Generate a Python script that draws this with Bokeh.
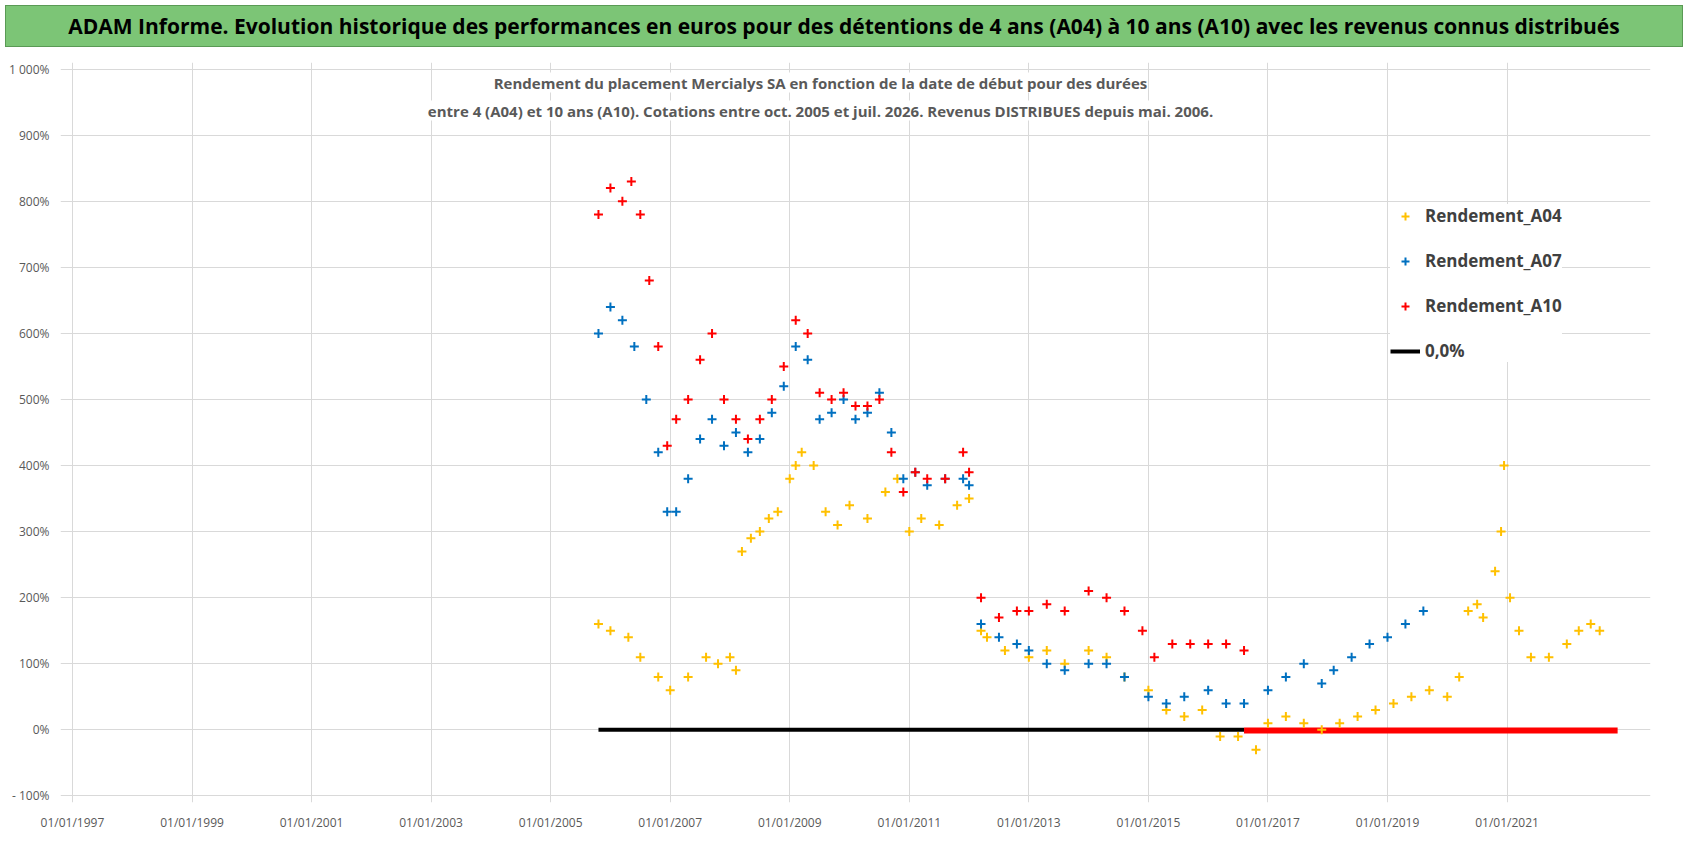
from bokeh.plotting import figure
from bokeh.models import FixedTicker, Label, Legend, LegendItem, Div
from bokeh.layouts import column
from bokeh.embed import file_html
from bokeh.resources import INLINE

# Values (x in decimal years, y in %)
a04_x = [2005.8,2006.0,2006.3,2006.5,2006.8,2007.0,2007.3,2007.6,2007.8,2008.0,2008.1,
         2008.2,2008.35,2008.5,2008.65,2008.8,2009.0,2009.1,2009.2,2009.4,2009.6,2009.8,2010.0,2010.3,2010.6,2010.8,2011.0,2011.2,2011.5,2011.8,2012.0,
         2012.2,2012.3,2012.6,2013.0,2013.3,2013.6,2014.0,2014.3,2014.6,2015.0,2015.3,2015.6,2015.9,2016.2,2016.5,2016.8,2017.0,2017.3,2017.6,2017.9,2018.2,2018.5,2018.8,2019.1,2019.4,2019.7,2020.0,2020.2,2020.35,2020.5,2020.6,2020.8,2020.9,2020.95,2021.05,2021.2,2021.4,2021.7,2022.0,2022.2,2022.4,2022.55]
a04_y = [160,150,140,110,80,60,80,110,100,110,90,
         270,290,300,320,330,380,400,420,400,330,310,340,320,360,380,300,320,310,340,350,
         150,140,120,110,120,100,120,110,80,60,30,20,30,-10,-10,-30,10,20,10,0,10,20,30,40,50,60,50,80,180,190,170,240,300,400,200,150,110,110,130,150,160,150]
a07_x = [2005.8,2006.0,2006.2,2006.4,2006.6,2006.8,2006.95,2007.1,2007.3,2007.5,2007.7,2007.9,2008.1,2008.3,2008.5,2008.7,2008.9,2009.1,2009.3,2009.5,2009.7,2009.9,2010.1,2010.3,2010.5,2010.7,2010.9,2011.1,2011.3,2011.6,2011.9,2012.0,
         2012.2,2012.5,2012.8,2013.0,2013.3,2013.6,2014.0,2014.3,2014.6,2015.0,2015.3,2015.6,2016.0,2016.3,2016.6,2017.0,2017.3,2017.6,2017.9,2018.1,2018.4,2018.7,2019.0,2019.3,2019.6]
a07_y = [600,640,620,580,500,420,330,330,380,440,470,430,450,420,440,480,520,580,560,470,480,500,470,480,510,450,380,390,370,380,380,370,
         160,140,130,120,100,90,100,100,80,50,40,50,60,40,40,60,80,100,70,90,110,130,140,160,180]
a10_x = [2005.8,2006.0,2006.2,2006.35,2006.5,2006.65,2006.8,2006.95,2007.1,2007.3,2007.5,2007.7,2007.9,2008.1,2008.3,2008.5,2008.7,2008.9,2009.1,2009.3,2009.5,2009.7,2009.9,2010.1,2010.3,2010.5,2010.7,2010.9,2011.1,2011.3,2011.6,2011.9,2012.0,
         2012.2,2012.5,2012.8,2013.0,2013.3,2013.6,2014.0,2014.3,2014.6,2014.9,2015.1,2015.4,2015.7,2016.0,2016.3,2016.6]
a10_y = [780,820,800,830,780,680,580,430,470,500,560,600,500,470,440,470,500,550,620,600,510,500,510,490,490,500,420,360,390,380,380,420,390,
         200,170,180,180,190,180,210,200,180,150,110,130,130,130,130,120]
zero_black = [2005.8, 2016.6]
zero_red = [2016.6, 2022.85]
tick_years = [1997,1999,2001,2003,2005,2007,2009,2011,2013,2015,2017,2019,2021]
y_ticks = list(range(-100, 1001, 100))

title = Div(text="ADAM Informe. Evolution historique des performances en euros pour des détentions de 4 ans (A04) à 10 ans (A10) avec les revenus connus distribués",
            width=1680, height=42,
            styles={"background-color": "#7CC576", "font-family": "Open Sans", "font-size": "21px",
                    "font-weight": "bold", "color": "black", "text-align": "center",
                    "line-height": "40px", "border": "1px solid #5a9a55", "width": "1678px"})

p = figure(width=1680, height=790, output_backend="svg", toolbar_location=None,
           x_range=(1996.8, 2023.4), y_range=(-110, 1010))
p.min_border_left = 60
p.min_border_bottom = 40
p.min_border_top = 10
p.min_border_right = 30
p.outline_line_color = None

p.xaxis.ticker = FixedTicker(ticks=tick_years)
p.xaxis.major_label_overrides = {y: "01/01/%d" % y for y in tick_years}
p.yaxis.ticker = FixedTicker(ticks=y_ticks)
p.yaxis.major_label_overrides = {v: ("1 000%" if v == 1000 else ("- 100%" if v < 0 else "%d%%" % v)) for v in y_ticks}
for ax in (p.xaxis, p.yaxis):
    ax.major_label_text_font = "Open Sans"
    ax.major_label_text_font_size = "12px"
    ax.major_label_text_color = "#595959"
    ax.axis_line_color = None
    ax.major_tick_line_color = None
    ax.minor_tick_line_color = None
p.grid.grid_line_color = "#D9D9D9"

r_black = p.line(zero_black, [0, 0], line_color="black", line_width=4)
p.line(zero_red, [-1, -1], line_color="#FF0000", line_width=6)
r4 = p.scatter(a04_x, a04_y, marker="cross", size=9, line_width=2, color="#FFC000")
r7 = p.scatter(a07_x, a07_y, marker="cross", size=9, line_width=2, color="#0070C0")
r10 = p.scatter(a10_x, a10_y, marker="cross", size=9, line_width=2, color="#FF0000")

legend = Legend(items=[LegendItem(label="Rendement_A04", renderers=[r4]),
                       LegendItem(label="Rendement_A07", renderers=[r7]),
                       LegendItem(label="Rendement_A10", renderers=[r10]),
                       LegendItem(label="0,0%", renderers=[r_black])],
                location=(1330, 440), label_text_font="Open Sans", label_text_font_size="17px",
                label_text_font_style="bold", label_text_color="#404040", spacing=22,
                border_line_color=None, background_fill_alpha=1, glyph_width=30, padding=14)
p.add_layout(legend)

for i, t in enumerate(["Rendement du placement Mercialys SA en fonction de la date de début pour des durées",
                       "entre 4 (A04) et 10 ans (A10). Cotations entre oct. 2005 et juil. 2026. Revenus DISTRIBUES depuis mai. 2006."]):
    p.add_layout(Label(x=760, y=710 - i * 28, x_units="screen", y_units="screen", text_align="center",
                       text=t, text_font="Open Sans", text_font_size="15px", text_font_style="bold",
                       text_color="#595959", background_fill_color="white"))

open("out.html", "w").write(file_html(column(title, p), INLINE))
